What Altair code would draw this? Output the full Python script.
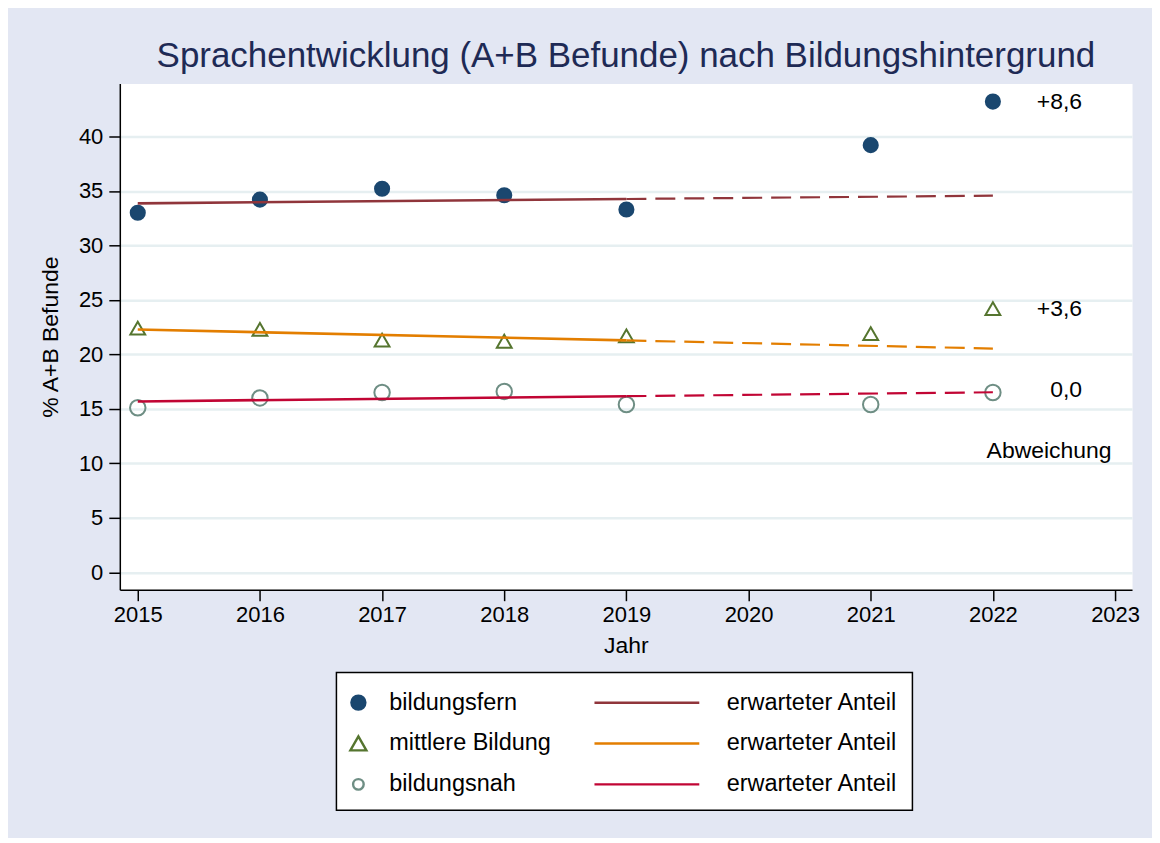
import altair as alt
import pandas as pd

# ---------------- data ----------------
years = [2015, 2016, 2017, 2018, 2019, 2021, 2022]
bildungsfern = [33.0, 34.2, 35.2, 34.6, 33.3, 39.2, 43.2]
mittlere_bildung = [22.4, 22.3, 21.3, 21.2, 21.7, 21.9, 24.2]
bildungsnah = [15.1, 16.0, 16.5, 16.6, 15.4, 15.4, 16.5]

groups = ["bildungsfern", "mittlere Bildung", "bildungsnah"]
trend_keys = ["erwarteter Anteil 1", "erwarteter Anteil 2", "erwarteter Anteil 3"]
fit_years = [2015, 2019]          # years used for the expected-share fit
projection_years = [2019, 2022]   # dashed continuation

deviation_labels = ["+8,6", "+3,6", "0,0"]
deviation_values = [43.2, 24.2, 16.7]
deviation_year = 2022.73
note_label = ["Abweichung"]
note_value = [11.1]
note_year = [2022.46]

x_ticks = list(range(2015, 2024))
y_ticks = list(range(0, 45, 5))

# ---------------- styling ----------------
FONT = "Liberation Sans"
point_colors = ["#1a476f", "#55752f", "#6e8e84"]
line_colors = ["#90353b", "#e37e00", "#c10534"]
BG = "#e3e7f3"

rows = []
for g, tk, vals in zip(groups, trend_keys, [bildungsfern, mittlere_bildung, bildungsnah]):
    for yr, v in zip(years, vals):
        rows.append({"group": g, "trend": tk, "year": yr, "value": v})
df = pd.DataFrame(rows)

# legend is filled column by column: markers first, then the expected-share lines
legend_domain = groups + trend_keys
legend_range = point_colors + line_colors

x_scale = alt.Scale(domain=[2014.853, 2023.139], nice=False, zero=False)
y_scale = alt.Scale(domain=[-1.6, 44.85], nice=False, zero=False)
color_scale = alt.Scale(domain=legend_domain, range=legend_range)

x_axis = alt.Axis(values=x_ticks, format="d", title="Jahr", grid=False,
                  tickSize=11, tickWidth=1.5, tickColor="black",
                  domainColor="black", domainWidth=1.5,
                  labelFontSize=22, labelColor="black", labelPadding=4,
                  labelFlush=False, labelOverlap=False,
                  titleFontSize=23, titleFontWeight="normal", titleColor="black",
                  titlePadding=9)
y_axis = alt.Axis(values=y_ticks, title="% A+B Befunde", grid=True,
                  gridColor="#e6eff1", gridWidth=2.5,
                  tickSize=11, tickWidth=1.5, tickColor="black",
                  domainColor="black", domainWidth=1.5,
                  labelFontSize=22, labelColor="black", labelPadding=6,
                  labelOverlap=False,
                  titleFontSize=23, titleFontWeight="normal", titleColor="black",
                  titleX=-57, titleY=253.5)

UNIT = 52.5  # half of sqrt(symbolSize)


def circle_path(r_px):
    r = r_px / UNIT
    return f"M{-r:.4f},0A{r:.4f},{r:.4f},0,1,1,{r:.4f},0A{r:.4f},{r:.4f},0,1,1,{-r:.4f},0Z"


tri_w, tri_h = 8.0 / UNIT, 7.0 / UNIT
TRI = f"M0,{-tri_h:.4f}L{tri_w:.4f},{tri_h:.4f}L{-tri_w:.4f},{tri_h:.4f}Z"
FILLED = circle_path(7.0)
HOLLOW = circle_path(5.3)
LINE = "M-1,0L1,0"

is_line = "indexof(datum.value, 'erwarteter') === 0"
shape_expr = (f"{is_line} ? '{LINE}' : datum.value === 'mittlere Bildung' ? '{TRI}' : "
              f"datum.value === 'bildungsfern' ? '{FILLED}' : '{HOLLOW}'")

legend = alt.Legend(
    title=None, orient="none", legendX=217, legendY=590,
    columns=2, columnPadding=38, rowPadding=13,
    symbolSize=11025, symbolStrokeWidth=2.4, symbolOpacity=1,
    labelFont=FONT, labelFontSize=23.5, labelColor="black", labelLimit=400,
    padding=14, strokeColor="black", fillColor="white",
)

# per-entry legend layout (marker entries vs. line entries), applied to the compiled spec
legend_encode = {
    "legend": {"update": {"strokeWidth": {"value": 1.5}}},
    "symbols": {"update": {
        "x": {"signal": f"{is_line} ? 54 : 8"},
        "y": {"value": 16},
        "shape": {"signal": shape_expr},
        "fill": {"signal": "datum.value === 'bildungsfern' ? '#1a476f' : 'transparent'"},
        "stroke": {"signal": "scale('color', datum.value)"},
        "opacity": {"value": 1},
    }},
    "labels": {"update": {
        "x": {"signal": f"{is_line} ? 134 : 39"},
        "y": {"value": 16},
        "baseline": {"value": "middle"},
        "text": {"signal": f"{is_line} ? 'erwarteter Anteil\u00a0\u00a0' : datum.label"},
    }},
}

points = alt.Chart(df).mark_point(filled=False, opacity=1, strokeWidth=2).encode(
    x=alt.X("year:Q", scale=x_scale, axis=x_axis),
    y=alt.Y("value:Q", scale=y_scale, axis=y_axis),
    color=alt.Color("group:N", scale=color_scale, legend=legend),
    shape=alt.Shape("group:N", scale=alt.Scale(domain=groups, range=["circle", "triangle-up", "circle"]), legend=None),
    fill=alt.Fill("group:N", scale=alt.Scale(domain=groups, range=[point_colors[0], "transparent", "transparent"]), legend=None),
    size=alt.Size("group:N", scale=alt.Scale(domain=groups, range=[200, 240, 144]), legend=None),
)

fit_base = alt.Chart(df).transform_filter(alt.datum.year <= fit_years[1])

solid = fit_base.transform_regression(
    "year", "value", groupby=["trend"], extent=fit_years
).mark_line(strokeWidth=2.6).encode(
    x=alt.X("year:Q", scale=x_scale),
    y=alt.Y("value:Q", scale=y_scale),
    color=alt.Color("trend:N", scale=color_scale, legend=legend),
)

dashed = fit_base.transform_regression(
    "year", "value", groupby=["trend"], extent=projection_years
).mark_line(strokeWidth=2.2, strokeDash=[20, 9]).encode(
    x=alt.X("year:Q", scale=x_scale),
    y=alt.Y("value:Q", scale=y_scale),
    color=alt.Color("trend:N", scale=color_scale, legend=legend),
)

dev_df = pd.DataFrame({"year": [deviation_year] * len(deviation_labels),
                       "value": deviation_values, "label": deviation_labels})
dev_text = alt.Chart(dev_df).mark_text(align="right", baseline="middle", fontSize=23,
                                       color="black", font=FONT).encode(
    x=alt.X("year:Q", scale=x_scale), y=alt.Y("value:Q", scale=y_scale), text="label:N")

note_df = pd.DataFrame({"year": note_year, "value": note_value, "label": note_label})
note_text = alt.Chart(note_df).mark_text(align="center", baseline="middle", fontSize=23,
                                         color="black", font=FONT).encode(
    x=alt.X("year:Q", scale=x_scale), y=alt.Y("value:Q", scale=y_scale), text="label:N")

W, H = 1146, 830
chart = alt.layer(points, solid, dashed, dev_text, note_text).properties(
    width=1014, height=507,
    title=alt.TitleParams("Sprachentwicklung (A+B Befunde) nach Bildungshintergrund",
                          fontSize=35, font=FONT, fontWeight="normal", color="#1e2a55",
                          anchor="middle", offset=10),
    autosize=alt.AutoSizeParams(type="none"),
    padding={"left": 112, "top": 75, "right": W - 112 - 1014, "bottom": H - 75 - 507},
    background=BG,
).configure(font=FONT).configure_view(fill="white", stroke="transparent")

chart.save("out.html", embed_options={
    "renderer": "svg", "actions": False,
    "patch": [{"op": "add", "path": "/legends/0/encode", "value": legend_encode}],
})
